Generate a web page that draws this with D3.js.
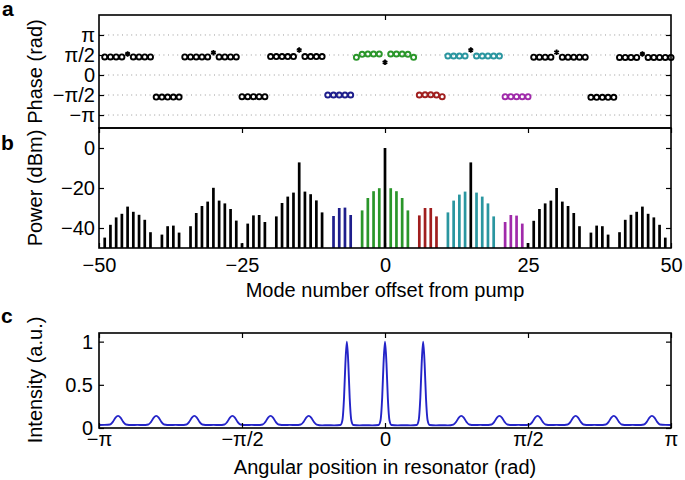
<!DOCTYPE html>
<html><head><meta charset="utf-8">
<script src="https://cdn.jsdelivr.net/npm/d3@7"></script>
<style>
html,body{margin:0;padding:0;background:#fff;}
text{font-family:"Liberation Sans",Arial,Helvetica,sans-serif;}
</style></head>
<body><svg id="fig" width="685" height="480"></svg>
<script>
// ---------- DATA ----------
// Panel a: phase (rad) per mode
const phBlackModes = [-49,-48,-47,-46,-44,-43,-42,-41, -40,-39,-38,-37,-36, -35,-34,-33,-32,-31,-29,-28,-27,-26, -25,-24,-23,-22,-21, -20,-19,-18,-17,-16,-14,-13,-12,-11, 26,27,28,29,31,32,33,34,35, 36,37,38,39,40, 41,42,43,44,46,47,48,49,50];
const phBlackVals  = [1.42,1.42,1.42,1.42,1.42,1.42,1.42,1.42, -1.73,-1.73,-1.73,-1.73,-1.73, 1.42,1.42,1.42,1.42,1.42,1.42,1.42,1.42,1.42, -1.70,-1.70,-1.70,-1.70,-1.70, 1.45,1.45,1.45,1.45,1.45,1.45,1.45,1.45,1.45, 1.40,1.40,1.40,1.40,1.40,1.40,1.40,1.40,1.40, -1.75,-1.75,-1.75,-1.75,-1.75, 1.38,1.38,1.38,1.38,1.38,1.38,1.38,1.38,1.38];
const phBlueModes = [-10,-9,-8,-7,-6];
const phBlueVals  = [-1.57,-1.57,-1.57,-1.57,-1.57];
const phGreenModes = [-5,-4,-3,-2,-1,1,2,3,4,5];
const phGreenVals  = [1.39,1.62,1.65,1.65,1.65,1.65,1.65,1.65,1.62,1.39];
const phRedModes = [6,7,8,9,10];
const phRedVals  = [-1.57,-1.55,-1.55,-1.57,-1.70];
const phCyanModes = [11,12,13,14,16,17,18,19,20];
const phCyanVals  = [1.49,1.49,1.49,1.49,1.49,1.49,1.49,1.49,1.49];
const phPurpleModes = [21,22,23,24,25];
const phPurpleVals  = [-1.70,-1.70,-1.70,-1.70,-1.70];
const phStarModes = [-45,-30,-15,0,15,30,45];
const phStarVals  = [1.65,1.75,1.96,1.00,1.96,1.78,1.65];
const phaseTicks = [Math.PI, Math.PI/2, 0, -Math.PI/2, -Math.PI];
const phaseTickLabels = ["π","π/2","0","−π/2","−π"];

// Panel b: power (dBm) per mode
const pwBlackModes = [-49,-48,-47,-46,-45,-44,-43,-42,-41, -39,-38,-37,-36, -34,-33,-32,-31,-30,-29,-28,-27,-26,-25, -24,-23,-22,-21, -19,-18,-17,-16,-15,-14,-13,-12,-11, 0, 15, 25,26,27,28,29,30,31,32,33,34, 36,37,38,39, 41,42,43,44,45,46,47,48,49];
const pwBlackVals  = [-44.8,-38.4,-34.7,-32.9,-29.3,-31.9,-33.4,-35.9,-42.1, -43.3,-39.1,-38.8,-42.3, -39.1,-32.5,-29.0,-26.8,-19.9,-26.3,-27.7,-30.5,-36.3,-47.6, -37.8,-33.7,-33.5,-37.0, -34.2,-27.5,-24.3,-22.3,-7.2,-21.8,-23.1,-26.2,-32.2, 0, -7.2, -47.5,-36.4,-30.5,-27.7,-26.3,-20.0,-26.8,-29.0,-32.5,-39.1, -42.3,-38.8,-39.1,-43.3, -42.1,-35.9,-33.4,-31.9,-29.3,-32.9,-34.7,-38.4,-44.8];
const pwBlueModes = [-9,-8,-7,-6];
const pwBlueVals  = [-34.0,-30.0,-29.8,-33.5];
const pwGreenModes = [-4,-3,-2,-1,1,2,3,4];
const pwGreenVals  = [-31.2,-25.0,-21.6,-20.1,-20.1,-21.6,-25.0,-31.2];
const pwRedModes = [6,7,8,9];
const pwRedVals  = [-33.7,-30.0,-30.0,-34.2];
const pwCyanModes = [11,12,13,14,16,17,18,19];
const pwCyanVals  = [-32.2,-26.3,-23.3,-21.8,-22.3,-24.3,-27.7,-34.2];
const pwPurpleModes = [21,22,23,24];
const pwPurpleVals  = [-37.0,-33.5,-33.8,-37.8];
const modeTicks = [-50,-25,0,25,50];
const powerTicks = [0,-20,-40];

// Panel c: intensity vs angular position
const angle = [-3.1416,-3.08,-3.02,-2.99,-2.96,-2.932,-2.905,-2.875,-2.845,-2.78,-2.72,-2.66,
 -2.60,-2.57,-2.54,-2.513,-2.486,-2.456,-2.426,-2.36,-2.30,-2.24,
 -2.18,-2.151,-2.121,-2.094,-2.067,-2.037,-2.007,-1.94,-1.885,-1.82,
 -1.763,-1.733,-1.703,-1.676,-1.649,-1.619,-1.589,-1.52,-1.466,-1.40,
 -1.344,-1.314,-1.284,-1.257,-1.230,-1.200,-1.170,-1.10,-1.047,-0.98,
 -0.925,-0.895,-0.865,-0.838,-0.811,-0.781,-0.751,-0.69,-0.628,-0.56,
 -0.49,-0.468,-0.450,-0.435,-0.419,-0.403,-0.388,-0.370,-0.348,-0.28,-0.21,-0.14,
 -0.071,-0.049,-0.031,-0.016,0,0.016,0.031,0.049,0.071,
 0.14,0.21,0.28,0.348,0.370,0.388,0.403,0.419,0.435,0.450,0.468,0.49,
 0.56,0.628,0.69,0.751,0.781,0.811,0.838,0.865,0.895,0.925,
 0.98,1.047,1.10,1.170,1.200,1.230,1.257,1.284,1.314,1.344,
 1.40,1.466,1.52,1.589,1.619,1.649,1.676,1.703,1.733,1.763,
 1.82,1.885,1.94,2.007,2.037,2.067,2.094,2.121,2.151,2.18,
 2.24,2.30,2.36,2.426,2.456,2.486,2.513,2.54,2.57,2.60,
 2.66,2.72,2.78,2.845,2.875,2.905,2.932,2.96,2.99,3.02,3.08,3.1416];
const intensity = [0.035,0.036,0.040,0.070,0.120,0.140,0.120,0.070,0.040,0.034,0.036,0.034,
 0.040,0.070,0.120,0.140,0.120,0.070,0.040,0.034,0.036,0.034,
 0.040,0.070,0.120,0.140,0.120,0.070,0.040,0.034,0.036,0.034,
 0.040,0.070,0.120,0.140,0.120,0.070,0.040,0.034,0.036,0.034,
 0.040,0.070,0.120,0.140,0.120,0.070,0.040,0.034,0.036,0.034,
 0.040,0.070,0.120,0.140,0.120,0.070,0.040,0.030,0.032,0.030,
 0.035,0.090,0.350,0.750,1.000,0.750,0.350,0.090,0.035,0.030,0.032,0.030,
 0.035,0.090,0.350,0.750,1.000,0.750,0.350,0.090,0.035,
 0.030,0.032,0.030,0.035,0.090,0.350,0.750,1.000,0.750,0.350,0.090,0.035,
 0.030,0.032,0.030,0.040,0.070,0.120,0.140,0.120,0.070,0.040,
 0.034,0.036,0.034,0.040,0.070,0.120,0.140,0.120,0.070,0.040,
 0.034,0.036,0.034,0.040,0.070,0.120,0.140,0.120,0.070,0.040,
 0.034,0.036,0.034,0.040,0.070,0.120,0.140,0.120,0.070,0.040,
 0.034,0.036,0.034,0.040,0.070,0.120,0.140,0.120,0.070,0.040,
 0.034,0.036,0.034,0.040,0.070,0.120,0.140,0.120,0.070,0.040,0.036,0.035];
const angleTicks = [-Math.PI,-Math.PI/2,0,Math.PI/2,Math.PI];
const angleTickLabels = ["−π","−π/2","0","π/2","π"];
const intensityTicks = [0,0.5,1];

// ---------- STYLE ----------
const C = {black:"#000000", blue:"#1e1e8c", green:"#2a962a", red:"#a01e1e", cyan:"#2a96a0", purple:"#a02aaa", line:"#2424c8"};
const L = 99, R = 671;
const FS = 20;

const svg = d3.select("#fig");
const x = d3.scaleLinear().domain([-50,50]).range([L,R]);

function styleAxis(g){
  g.select(".domain").remove();
  g.selectAll(".tick line").attr("stroke","#000").attr("stroke-width",1.2);
  g.selectAll(".tick text").attr("font-size",FS).attr("fill","#000")
    .style("font-family",'"Liberation Sans",Arial,Helvetica,sans-serif');
}
function box(top,bottom){
  svg.append("rect").attr("x",L).attr("y",top).attr("width",R-L).attr("height",bottom-top)
    .attr("fill","none").attr("stroke","#000").attr("stroke-width",1.6);
}
function letter(t,xp,yp){
  svg.append("text").attr("x",xp).attr("y",yp).attr("font-size",21).attr("font-weight","bold").text(t);
}
function ylabel(t,cy){
  svg.append("text").attr("transform",`translate(42,${cy}) rotate(-90)`).attr("text-anchor","middle")
    .attr("font-size",FS).text(t);
}

// ---------- PANEL A ----------
const aTop = 15, aBot = 128;
const ya = d3.scaleLinear().domain([-4.16,4.71]).range([aBot,aTop]);
const ga = svg.append("g");
ga.selectAll("line.grid").data(phaseTicks).join("line").attr("class","grid")
  .attr("x1",L).attr("x2",R).attr("y1",d=>ya(d)).attr("y2",d=>ya(d))
  .attr("stroke","#9a9a9a").attr("stroke-width",1).attr("stroke-dasharray","1,3.6");
ga.append("g").attr("transform",`translate(${L},0)`)
  .call(d3.axisLeft(ya).tickValues(phaseTicks).tickFormat((d,i)=>phaseTickLabels[i]).tickSize(-5).tickPadding(4))
  .call(styleAxis);
ga.append("g").attr("transform",`translate(${R},0)`)
  .call(d3.axisRight(ya).tickValues(phaseTicks).tickFormat("").tickSize(-5)).call(styleAxis);
ga.append("g").attr("transform",`translate(0,${aTop})`)
  .call(d3.axisTop(x).tickValues([0]).tickFormat("").tickSize(-5)).call(styleAxis);

const phaseSeries = [
  [phBlackModes,phBlackVals,C.black],[phBlueModes,phBlueVals,C.blue],[phGreenModes,phGreenVals,C.green],
  [phRedModes,phRedVals,C.red],[phCyanModes,phCyanVals,C.cyan],[phPurpleModes,phPurpleVals,C.purple]];
phaseSeries.forEach(([m,v,c])=>{
  ga.append("g").selectAll("circle").data(m.map((d,i)=>[d,v[i]])).join("circle")
    .attr("cx",d=>x(d[0])).attr("cy",d=>ya(d[1])).attr("r",2.55)
    .attr("fill","none").attr("stroke",c).attr("stroke-width",1.9);
});
const star = d3.symbol().type(d3.symbolAsterisk).size(20);
ga.append("g").selectAll("path").data(phStarModes.map((d,i)=>[d,phStarVals[i]])).join("path")
  .attr("d",star).attr("transform",d=>`translate(${x(d[0])},${ya(d[1])})`)
  .attr("fill","none").attr("stroke","#000").attr("stroke-width",1.8);
box(aTop,aBot);
ylabel("Phase (rad)",(aTop+aBot)/2);
letter("a",2,16);

// ---------- PANEL B ----------
const bTop = 128, bBot = 248;
const yb = d3.scaleLinear().domain([-50,10]).range([bBot,bTop]);
const gb = svg.append("g");
const barSeries = [
  [pwBlackModes,pwBlackVals,C.black],[pwBlueModes,pwBlueVals,C.blue],[pwGreenModes,pwGreenVals,C.green],
  [pwRedModes,pwRedVals,C.red],[pwCyanModes,pwCyanVals,C.cyan],[pwPurpleModes,pwPurpleVals,C.purple]];
barSeries.forEach(([m,v,c])=>{
  gb.append("g").selectAll("rect").data(m.map((d,i)=>[d,v[i]])).join("rect")
    .attr("x",d=>x(d[0])-1.35).attr("width",2.7)
    .attr("y",d=>yb(d[1])).attr("height",d=>yb(-50)-yb(d[1])).attr("fill",c);
});
gb.append("g").attr("transform",`translate(${L},0)`)
  .call(d3.axisLeft(yb).tickValues(powerTicks).tickFormat(d=>d<0?"−"+Math.abs(d):d).tickSize(-5).tickPadding(4))
  .call(styleAxis);
gb.append("g").attr("transform",`translate(${R},0)`)
  .call(d3.axisRight(yb).tickValues(powerTicks).tickFormat("").tickSize(-5)).call(styleAxis);
gb.append("g").attr("transform",`translate(0,${bBot})`)
  .call(d3.axisBottom(x).tickValues(modeTicks).tickFormat(d=>d<0?"−"+Math.abs(d):d).tickSize(-5).tickPadding(10))
  .call(styleAxis);
gb.append("g").attr("transform",`translate(0,${bTop})`)
  .call(d3.axisTop(x).tickValues(modeTicks).tickFormat("").tickSize(-5)).call(styleAxis);
box(bTop,bBot);
ylabel("Power (dBm)",(bTop+bBot)/2);
svg.append("text").attr("x",(L+R)/2).attr("y",297).attr("text-anchor","middle").attr("font-size",FS)
  .text("Mode number offset from pump");
letter("b",1,150);

// ---------- PANEL C ----------
const cTop = 333, cBot = 428;
const xc = d3.scaleLinear().domain([-Math.PI,Math.PI]).range([L,R]);
const yc = d3.scaleLinear().domain([0,1.1]).range([cBot,cTop]);
const gc = svg.append("g");
gc.append("path").datum(angle.map((a,i)=>[a,intensity[i]]))
  .attr("d",d3.line().x(d=>xc(d[0])).y(d=>yc(d[1])).curve(d3.curveMonotoneX))
  .attr("fill","none").attr("stroke",C.line).attr("stroke-width",1.9);
gc.append("g").attr("transform",`translate(${L},0)`)
  .call(d3.axisLeft(yc).tickValues(intensityTicks).tickFormat(d3.format("~g")).tickSize(-5).tickPadding(6))
  .call(styleAxis);
gc.append("g").attr("transform",`translate(${R},0)`)
  .call(d3.axisRight(yc).tickValues(intensityTicks).tickFormat("").tickSize(-5)).call(styleAxis);
gc.append("g").attr("transform",`translate(0,${cBot})`)
  .call(d3.axisBottom(xc).tickValues(angleTicks).tickFormat((d,i)=>angleTickLabels[i]).tickSize(-5).tickPadding(4))
  .call(styleAxis);
gc.append("g").attr("transform",`translate(0,${cTop})`)
  .call(d3.axisTop(xc).tickValues(angleTicks).tickFormat("").tickSize(-5)).call(styleAxis);
box(cTop,cBot);
ylabel("Intensity (a.u.)",380);
svg.append("text").attr("x",(L+R)/2).attr("y",474).attr("text-anchor","middle").attr("font-size",FS)
  .text("Angular position in resonator (rad)");
letter("c",1,323);
</script></body></html>
